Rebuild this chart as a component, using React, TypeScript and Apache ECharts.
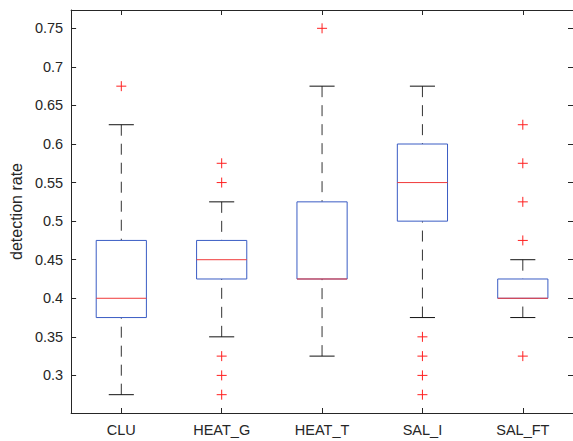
import React, { useEffect, useRef } from "react";
import * as echarts from "echarts";

const categories = ["CLU", "HEAT_G", "HEAT_T", "SAL_I", "SAL_FT"];
const lowWhisker = [0.275, 0.35, 0.325, 0.375, 0.375];
const q1 = [0.375, 0.425, 0.425, 0.5, 0.4];
const medians = [0.4, 0.45, 0.425, 0.55, 0.4];
const q3 = [0.475, 0.475, 0.525, 0.6, 0.425];
const highWhisker = [0.625, 0.525, 0.675, 0.675, 0.45];
const outliers: number[][] = [
  [0.675],
  [0.575, 0.55, 0.325, 0.3, 0.275],
  [0.75],
  [0.35, 0.325, 0.3, 0.275],
  [0.625, 0.575, 0.525, 0.475, 0.325],
];
const yTicks = [0.3, 0.35, 0.4, 0.45, 0.5, 0.55, 0.6, 0.65, 0.7, 0.75];
const yMin = 0.25125;
const yMax = 0.77375;

const FONT = '"Liberation Sans", Arial, Helvetica, sans-serif';
const AXIS = "#262626";

export default function App() {
  const ref = useRef<HTMLDivElement>(null);
  useEffect(() => {
    if (!ref.current) return;
    const chart = echarts.init(ref.current, null, { renderer: "svg" });
    const boxData = categories.map((_, i) => [i, lowWhisker[i], q1[i], medians[i], q3[i], highWhisker[i]]);
    const outlierData: number[][] = [];
    outliers.forEach((arr, i) => arr.forEach((v) => outlierData.push([i, v])));

    const renderItem = (params: any, api: any) => {
      const idx = api.value(0);
      const lo = api.coord([idx, api.value(1)]);
      const b1 = api.coord([idx, api.value(2)]);
      const md = api.coord([idx, api.value(3)]);
      const b3 = api.coord([idx, api.value(4)]);
      const hi = api.coord([idx, api.value(5)]);
      const band = api.size([1, 0])[0];
      const bw = band * 0.5;
      const cw = band * 0.25;
      const cx = lo[0];
      const dash = { stroke: "#333", lineWidth: 1, lineDash: [11, 8] };
      const solid = { stroke: "#111", lineWidth: 1 };
      return {
        type: "group",
        children: [
          { type: "line", shape: { x1: cx, y1: hi[1], x2: cx, y2: b3[1] }, style: dash },
          { type: "line", shape: { x1: cx, y1: lo[1], x2: cx, y2: b1[1] }, style: dash },
          { type: "line", shape: { x1: cx - cw / 2, y1: hi[1], x2: cx + cw / 2, y2: hi[1] }, style: solid },
          { type: "line", shape: { x1: cx - cw / 2, y1: lo[1], x2: cx + cw / 2, y2: lo[1] }, style: solid },
          {
            type: "rect",
            shape: { x: cx - bw / 2, y: b3[1], width: bw, height: b1[1] - b3[1] },
            style: { fill: "#fff", stroke: "#3a5cc4", lineWidth: 1 },
          },
          {
            type: "line",
            shape: { x1: cx - bw / 2, y1: md[1], x2: cx + bw / 2, y2: md[1] },
            style: { stroke: "#f03a3a", lineWidth: 1 },
          },
        ],
      };
    };

    const tickLabelStyle = { color: AXIS, fontSize: 14.5, fontFamily: FONT };

    chart.setOption({
      animation: false,
      backgroundColor: "#fff",
      grid: { left: 66, right: -3, top: 10, bottom: 28, containLabel: false },
      xAxis: [
        {
          type: "category",
          data: categories,
          boundaryGap: true,
          position: "bottom",
          axisLine: { show: true, lineStyle: { color: AXIS, width: 1 } },
          axisTick: { show: true, inside: true, alignWithLabel: true, length: 5, lineStyle: { color: AXIS } },
          axisLabel: { ...tickLabelStyle, margin: 9 },
          splitLine: { show: false },
        },
        {
          type: "category",
          data: categories,
          boundaryGap: true,
          position: "top",
          axisLine: { show: true, onZero: false, lineStyle: { color: AXIS, width: 1 } },
          axisTick: { show: true, inside: true, alignWithLabel: true, length: 5, lineStyle: { color: AXIS } },
          axisLabel: { show: false },
          splitLine: { show: false },
        },
      ],
      yAxis: [
        {
          type: "value",
          min: yMin,
          max: yMax,
          position: "left",
          name: "detection rate",
          nameLocation: "middle",
          nameGap: 41,
          nameTextStyle: { color: AXIS, fontSize: 16, fontFamily: FONT },
          axisLine: { show: true, onZero: false, lineStyle: { color: AXIS, width: 1 } },
          axisTick: { show: true, inside: true, length: 5, customValues: yTicks, lineStyle: { color: AXIS } },
          axisLabel: { ...tickLabelStyle, margin: 8, customValues: yTicks, formatter: (v: number) => String(v) },
          splitLine: { show: false },
        },
        {
          type: "value",
          min: yMin,
          max: yMax,
          position: "right",
          axisLine: { show: true, onZero: false, lineStyle: { color: AXIS, width: 1 } },
          axisTick: { show: true, inside: true, length: 5, customValues: yTicks, lineStyle: { color: AXIS } },
          axisLabel: { show: false, customValues: yTicks },
          splitLine: { show: false },
        },
      ],
      series: [
        {
          type: "custom",
          xAxisIndex: 0,
          yAxisIndex: 0,
          renderItem,
          encode: { x: 0, y: [1, 2, 3, 4, 5] },
          data: boxData,
          z: 2,
        },
        {
          type: "scatter",
          xAxisIndex: 0,
          yAxisIndex: 0,
          data: outlierData,
          symbol: "path://M5,0 L5,10 M0,5 L10,5",
          symbolSize: 10,
          itemStyle: { color: "rgba(0,0,0,0)", borderColor: "#ff2020", borderWidth: 1, opacity: 1 },
          z: 3,
        },
      ],
    });
    return () => chart.dispose();
  }, []);
  return <div ref={ref} style={{ position: "fixed", left: 0, top: 0, width: 573, height: 441 }} />;
}
